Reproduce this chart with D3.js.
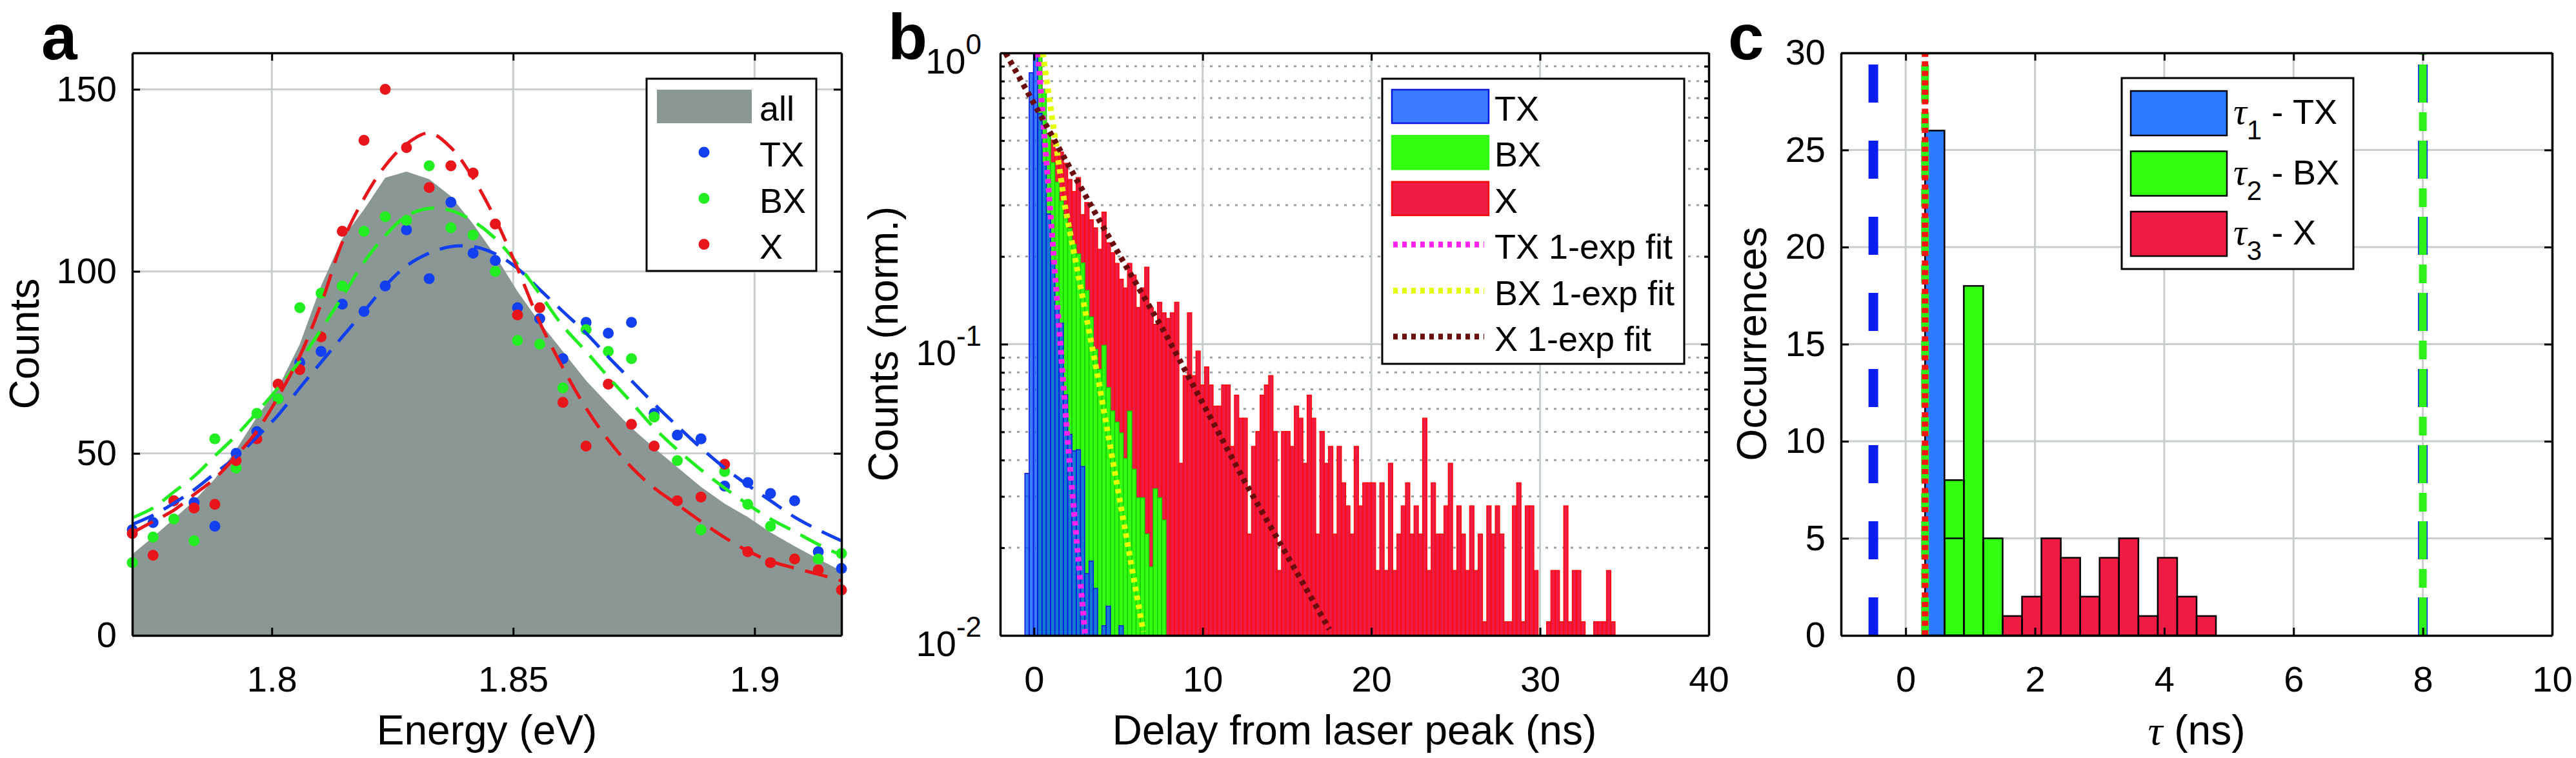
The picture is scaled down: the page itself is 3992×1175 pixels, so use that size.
<!DOCTYPE html>
<html>
<head>
<meta charset="utf-8">
<script src="https://cdn.jsdelivr.net/npm/d3@7"></script>
<style>
html, body { margin: 0; padding: 0; background: #fff; }
svg text { font-family: "Liberation Sans", Arial, Helvetica, sans-serif; }
</style>
</head>
<body>
<svg id="fig" width="3992" height="1175"></svg>
<script>
// ---------- panel a : spectra ----------
let energy = [1.7711,1.7754,1.7797,1.7839,1.7882,1.7926,1.7969,1.8013,1.8058,1.8102,1.8146,1.8191,1.8235,1.8279,1.8326,1.8371,1.8417,1.8463,1.8509,1.8555,1.8603,1.8651,1.8697,1.8745,1.8792,1.8840,1.8889,1.8938,1.8986,1.9033,1.9083,1.9132,1.9180];
let countsAll = [22.3,27,32,37,43,51,60,68,80,96,109,117,125.7,127.4,125.3,120.6,113,104.3,94.5,86,78,70,63.5,57,51.5,46.2,40.8,36.2,32.5,28.3,24.5,21,17.7];
let countsTX = [29,31,37,36.5,30,50,56,65,75,78,91,89,96,111.4,98,119,105,103,90,87,76,86,83,86,61,55,54,41,42,39,37,23,18.4];
let countsBX = [20,27,32,26,54,46,61,65,90,94,96,111,115,114,129,112,110,100,81,80,68,84,78,76,60,48,29,45,36,30,21,21,22.5];
let countsX  = [28,22,37,35,36,48,54,69,73,82,111,136,150,134,123,129,127,113,88,90,64,52,69,58,52,37,38,47,23,20,21,18,12.5];
let fitTX = [30.5,33,36.3,40,44.5,49,54.5,60.5,68,75,82,89,96,101.5,105,106.8,106.8,104.8,100.8,95,89,83,76.5,70,63.6,57.5,51.5,46,41.3,37,32.5,29,26];
let fitBX = [32.3,35,39.4,43.7,49.3,54.9,61.2,68,75.4,84,93,102.5,109.8,115.2,117.3,116.7,113.8,109,102,93.8,85,78,71,64,57,51,45.5,40.5,36,32,28.5,25,22];
let fitX  = [28.2,31.3,34.4,38.7,43.1,49.3,56.1,65.5,76.7,91,108,120,129,135,138,134,125.6,114.4,100.8,86,73.5,62.4,53.7,46.2,40.5,36,31.3,26.9,23.2,20.4,18.5,16.8,15];
let aTicksX = [1.8, 1.85, 1.9];
let aTicksY = [0, 50, 100, 150];
let aLegend = ["all", "TX", "BX", "X"];

// ---------- panel b : decay histograms ----------
let binStart = -0.535, binWidth = 0.2535;   // ns
let histTX = [0.036,0.855,1.0,0.62,0.42,0.28,0.19,0.135,0.118,0.067,0.049,0.043,0.0434,0.038,0.0163,0.018,0.0145,0,0.0108,0.0126,0,0,0.0108];
let histBX = [0,0,0,1.0,0.75,0.525,0.42,0.36,0.31,0.27,0.25,0.22,0.204,0.19,0.153,0.124,0.096,0.082,0.099,0.071,0.059,0.054,0.0496,0.0405,0.0589,0.0372,0.0297,0.0297,0.0223,0.0172,0.0319,0.0297,0.0249];
let countsXdecay = [0,0,0,150,110,95,90,84,82,75,66,60,67,50,55,48,45,38,51,40,37,34,30,28,34,31,24,28,33,24,21,25,23,22,23,25,7,14,23,14,17,13,15,13,11,11,13,13,8,12,10,10,4,8,9,12,13,14,9,3,9,9,8,11,10,7,12,10,4,9,7,8,4,8,6,5,4,8,5,6,6,6,3,6,3,7,3,4,5,6,4,5,4,10,3,6,4,4,5,7,3,5,4,3,5,3,4,2,5,4,5,4,2,2,5,6,2,5,5,3,0,0,2,3,3,2,5,2,3,3,2,0,0,2,2,2,3,2];
let maxXdecay = 179.5;
let fitTXdecay = [[0.23,1],[0.87,0.34],[2.02,0.045],[3.04,0.01]];
let fitBXdecay = [[0.52,1],[1.83,0.30],[3.74,0.080],[6.48,0.0103]];
let fitXdecay  = [[-1.68,1],[3.99,0.259],[7.82,0.108],[12.54,0.0334],[17.51,0.0105]];
let bTicksX = [0, 10, 20, 30, 40];
let bMajorY = [1, 0.1, 0.01];
let bExpY = ["0", "-1", "-2"];
let bMinorY = [0.02,0.03,0.04,0.05,0.06,0.07,0.08,0.09,0.2,0.3,0.4,0.5,0.6,0.7,0.8,0.9];
let bLegend = ["TX", "BX", "X", "TX 1-exp fit", "BX 1-exp fit", "X 1-exp fit"];

// ---------- panel c : lifetime occurrences ----------
let tauBin = 0.3;
let tau1Start = [0.3, 0.6], tau1Count = [26, 5];
let tau2Start = [0.6, 0.9, 1.2], tau2Count = [8, 18, 5];
let tau3Start = [1.5,1.8,2.1,2.4,2.7,3.0,3.3,3.6,3.9,4.2,4.5];
let tau3Count = [1,2,5,4,2,4,5,1,4,2,1];
let markTX = [-0.5, 8], markBX = [0.3, 8], markX = [0.3];
let cTicksX = [0, 2, 4, 6, 8, 10];
let cTicksY = [0, 5, 10, 15, 20, 25, 30];
let cLegend = [["1", " - TX"], ["2", " - BX"], ["3", " - X"]];

// ---------- drawing ----------
let svg = d3.select("#fig");
svg.append("rect").attr("width", 3992).attr("height", 1175).attr("fill", "#fff");

let gridCol = "#c8cecd";
let blue = "#1240f0", green = "#22ee22", red = "#e8151b";
let tickLen = 12;

function styleAxis(g) {
  g.attr("font-family", null).attr("font-size", null);
  g.select(".domain").attr("stroke", "#000").attr("stroke-width", 3.5);
  g.selectAll(".tick line").attr("stroke", "#000").attr("stroke-width", 3);
  g.selectAll(".tick text").attr("font-size", 56).attr("fill", "#000");
}

function frame(g, x, y, box, xt, yt, xfmt, yfmt) {
  g.append("g").attr("transform", "translate(0," + box.bottom + ")")
    .call(d3.axisBottom(x).tickValues(xt).tickSize(-tickLen).tickSizeOuter(0).tickPadding(47).tickFormat(xfmt))
    .call(styleAxis);
  g.append("g").attr("transform", "translate(0," + box.top + ")")
    .call(d3.axisTop(x).tickValues(xt).tickSize(-tickLen).tickSizeOuter(0).tickFormat(""))
    .call(styleAxis);
  g.append("g").attr("transform", "translate(" + box.left + ",0)")
    .call(d3.axisLeft(y).tickValues(yt).tickSize(-tickLen).tickSizeOuter(0).tickPadding(24).tickFormat(yfmt))
    .call(styleAxis);
  g.append("g").attr("transform", "translate(" + box.right + ",0)")
    .call(d3.axisRight(y).tickValues(yt).tickSize(-tickLen).tickSizeOuter(0).tickFormat(""))
    .call(styleAxis);
}

function grid(g, x, y, box, xv, yv, dash, col) {
  g.selectAll(null).data(xv).enter().append("line")
    .attr("x1", d => x(d)).attr("x2", d => x(d)).attr("y1", box.top).attr("y2", box.bottom)
    .attr("stroke", col || gridCol).attr("stroke-width", 3).attr("stroke-dasharray", dash || null);
  g.selectAll(null).data(yv).enter().append("line")
    .attr("y1", d => y(d)).attr("y2", d => y(d)).attr("x1", box.left).attr("x2", box.right)
    .attr("stroke", col || gridCol).attr("stroke-width", 3).attr("stroke-dasharray", dash || null);
}

function panelLetter(txt, x) {
  svg.append("text").attr("x", x).attr("y", 92).attr("font-size", 100).attr("font-weight", "bold").text(txt);
}

function yTitle(x, y, txt) {
  return svg.append("text").attr("transform", "translate(" + x + "," + y + ") rotate(-90)")
    .attr("text-anchor", "middle").attr("font-size", 64).text(txt);
}

function xTitle(x, txt) {
  return svg.append("text").attr("x", x).attr("y", 1154).attr("text-anchor", "middle").attr("font-size", 64).text(txt);
}

// ===== panel a =====
let boxA = {left: 205, right: 1304, top: 82, bottom: 985};
let xA = d3.scaleLinear().domain([energy[0], energy[energy.length - 1]]).range([boxA.left, boxA.right]);
let yA = d3.scaleLinear().domain([0, 160]).range([boxA.bottom, boxA.top]);
let gA = svg.append("g");

grid(gA, xA, yA, boxA, aTicksX, [50, 100, 150]);

gA.append("path").datum(countsAll)
  .attr("d", d3.area().x((d, i) => xA(energy[i])).y0(yA(0)).y1(d => yA(d)))
  .attr("fill", "#8a9794");

[[countsTX, blue], [countsBX, green], [countsX, red]].forEach(([vals, col]) => {
  gA.selectAll(null).data(vals).enter().append("circle")
    .attr("cx", (d, i) => xA(energy[i])).attr("cy", d => yA(d)).attr("r", 8.5).attr("fill", col);
});

let fitLineA = d3.line().x((d, i) => xA(energy[i])).y(d => yA(d)).curve(d3.curveCatmullRom);
[[fitTX, blue], [fitBX, green], [fitX, red]].forEach(([vals, col]) => {
  gA.append("path").datum(vals).attr("d", fitLineA).attr("fill", "none")
    .attr("stroke", col).attr("stroke-width", 5).attr("stroke-dasharray", "36,18");
});

frame(gA, xA, yA, boxA, aTicksX, aTicksY, d3.format(""), d3.format(""));

// legend a
let legA = gA.append("g");
legA.append("rect").attr("x", 1002).attr("y", 122).attr("width", 263).attr("height", 298)
  .attr("fill", "#fff").attr("stroke", "#000").attr("stroke-width", 3);
legA.append("rect").attr("x", 1018).attr("y", 139).attr("width", 147).attr("height", 52).attr("fill", "#8a9794");
[blue, green, red].forEach((col, i) => {
  legA.append("circle").attr("cx", 1091).attr("cy", 236 + i * 71.4).attr("r", 8.5).attr("fill", col);
});
aLegend.forEach((t, i) => {
  legA.append("text").attr("x", 1177).attr("y", 187 + i * 71.4).attr("font-size", 54).text(t);
});

panelLetter("a", 64);
yTitle(60, 533, "Counts");
xTitle((boxA.left + boxA.right) / 2, "Energy (eV)");

// ===== panel b =====
let boxB = {left: 1550, right: 2648, top: 82, bottom: 985};
let xB = d3.scaleLinear().domain([-2, 40]).range([boxB.left, boxB.right]);
let yB = d3.scaleLog().domain([0.01, 1]).range([boxB.bottom, boxB.top]);
let gB = svg.append("g");

svg.append("clipPath").attr("id", "clipB").append("rect")
  .attr("x", boxB.left).attr("y", boxB.top).attr("width", boxB.right - boxB.left).attr("height", boxB.bottom - boxB.top);

grid(gB, xB, yB, boxB, [], bMinorY, "4,9", "#9aa3a1");
grid(gB, xB, yB, boxB, [0, 10, 20, 30], [0.1]);

function histBars(vals, fill, stroke, op) {
  let data = vals.map((v, k) => ({k: k, v: v})).filter(d => d.v > 0.01);
  gB.append("g").selectAll("rect").data(data).enter().append("rect")
    .attr("x", d => xB(binStart + d.k * binWidth))
    .attr("width", xB(binStart + binWidth) - xB(binStart))
    .attr("y", d => yB(d.v))
    .attr("height", d => yB(0.01) - yB(d.v))
    .attr("fill", fill).attr("fill-opacity", op).attr("stroke", stroke).attr("stroke-width", 1.5);
}
histBars(countsXdecay.map(c => c / maxXdecay), "#ee1c44", "#ff0a0a", 1);
histBars(histBX, "#33ff11", "#19c805", 1);
histBars(histTX, "#0a5aff", "#0a14e0", 0.8);

let fitLineB = d3.line().x(d => xB(d[0])).y(d => yB(d[1]));
let fitColsB = ["#ff22ee", "#e6ff00", "#6a0c0c"];
[fitTXdecay, fitBXdecay, fitXdecay].forEach((pts, i) => {
  gB.append("path").datum(pts).attr("d", fitLineB).attr("clip-path", "url(#clipB)")
    .attr("fill", "none").attr("stroke", fitColsB[i]).attr("stroke-width", 9).attr("stroke-dasharray", "7,7");
});

frame(gB, xB, yB, boxB, bTicksX, bMajorY, d3.format(""), () => "");
// minor log ticks
gB.append("g").attr("transform", "translate(" + boxB.left + ",0)")
  .call(d3.axisLeft(yB).tickValues(bMinorY).tickSize(-7).tickSizeOuter(0).tickFormat(""))
  .call(styleAxis).select(".domain").remove();
gB.append("g").attr("transform", "translate(" + boxB.right + ",0)")
  .call(d3.axisRight(yB).tickValues(bMinorY).tickSize(-7).tickSizeOuter(0).tickFormat(""))
  .call(styleAxis).select(".domain").remove();

bMajorY.forEach((v, i) => {
  let t = gB.append("text").attr("x", 1521).attr("y", yB(v) + 32).attr("text-anchor", "end").attr("font-size", 56);
  t.append("tspan").text("10");
  t.append("tspan").attr("dy", -30).attr("font-size", 44).text(bExpY[i]);
});

// legend b
let legB = gB.append("g");
legB.append("rect").attr("x", 2142).attr("y", 122).attr("width", 468).attr("height", 442)
  .attr("fill", "#fff").attr("stroke", "#000").attr("stroke-width", 3);
[["#0a5aff", "#0a14e0", 0.8], ["#33ff11", "#33ff11", 1], ["#ee1c44", "#ff0a0a", 1]].forEach((c, i) => {
  legB.append("rect").attr("x", 2157).attr("y", 139 + i * 71.4).attr("width", 150).attr("height", 52)
    .attr("fill", c[0]).attr("fill-opacity", c[2]).attr("stroke", c[1]).attr("stroke-width", 2.5);
});
fitColsB.forEach((col, i) => {
  let yy = 379 + i * 71.4;
  legB.append("line").attr("x1", 2159).attr("x2", 2300).attr("y1", yy).attr("y2", yy)
    .attr("stroke", col).attr("stroke-width", 9).attr("stroke-dasharray", "7,7");
});
bLegend.forEach((t, i) => {
  legB.append("text").attr("x", 2316).attr("y", 187 + i * 71.4).attr("font-size", 54).text(t);
});

panelLetter("b", 1376);
yTitle(1391, 533, "Counts (norm.)");
xTitle((boxB.left + boxB.right) / 2, "Delay from laser peak (ns)");

// ===== panel c =====
let boxC = {left: 2853, right: 3955, top: 82, bottom: 985};
let xC = d3.scaleLinear().domain([-1, 10]).range([boxC.left, boxC.right]);
let yC = d3.scaleLinear().domain([0, 30]).range([boxC.bottom, boxC.top]);
let gC = svg.append("g");

grid(gC, xC, yC, boxC, cTicksX, cTicksY.slice(1));

let tauSets = [[tau1Start, tau1Count, "#2a7bff"], [tau2Start, tau2Count, "#33ff11"], [tau3Start, tau3Count, "#ee1c44"]];
tauSets.forEach(([starts, counts, col]) => {
  gC.append("g").selectAll("rect").data(counts).enter().append("rect")
    .attr("x", (d, i) => xC(starts[i])).attr("width", xC(tauBin) - xC(0))
    .attr("y", d => yC(d)).attr("height", d => yC(0) - yC(d)).attr("fill", col);
});
// bar edges drawn last so overlapping edges stay visible
tauSets.forEach(([starts, counts]) => {
  gC.append("g").selectAll("rect").data(counts).enter().append("rect")
    .attr("x", (d, i) => xC(starts[i])).attr("width", xC(tauBin) - xC(0))
    .attr("y", d => yC(d)).attr("height", d => yC(0) - yC(d))
    .attr("fill", "none").attr("stroke", "#000").attr("stroke-width", 2.5);
});

function vline(xv, col, w, dash) {
  gC.append("line").attr("x1", xC(xv)).attr("x2", xC(xv)).attr("y1", boxC.bottom).attr("y2", boxC.top)
    .attr("stroke", col).attr("stroke-width", w).attr("stroke-dasharray", dash);
}
markTX.forEach(v => vline(v, "#0a1ef0", 15, "59,59"));
markBX.forEach(v => vline(v, "#2ef01a", 12, "59,15,29,15"));
markX.forEach(v => vline(v, "#ff1111", 10, "8,6.7"));

frame(gC, xC, yC, boxC, cTicksX, cTicksY, d3.format(""), d3.format(""));

// legend c
let legC = gC.append("g");
legC.append("rect").attr("x", 3288).attr("y", 121).attr("width", 359).attr("height", 296)
  .attr("fill", "#fff").attr("stroke", "#000").attr("stroke-width", 3);
["#2a7bff", "#33ff11", "#ee1c44"].forEach((col, i) => {
  legC.append("rect").attr("x", 3302).attr("y", 141 + i * 93.5).attr("width", 149).attr("height", 69)
    .attr("fill", col).attr("stroke", "#000").attr("stroke-width", 2.5);
  let t = legC.append("text").attr("x", 3461).attr("y", 192 + i * 93.5).attr("font-size", 54);
  t.append("tspan").attr("font-family", "'Liberation Serif', 'Times New Roman', serif")
    .attr("font-style", "italic").attr("font-size", 58).text("\u03c4");
  t.append("tspan").attr("dy", 24).attr("font-size", 42).text(cLegend[i][0]);
  t.append("tspan").attr("dy", -24).text(cLegend[i][1]);
});

panelLetter("c", 2678);
yTitle(2737, 533, "Occurrences");
let tc = xTitle((boxC.left + boxC.right) / 2, "");
tc.append("tspan").attr("font-family", "'Liberation Serif', 'Times New Roman', serif")
  .attr("font-style", "italic").text("\u03c4");
tc.append("tspan").text(" (ns)");
</script>
</body>
</html>
